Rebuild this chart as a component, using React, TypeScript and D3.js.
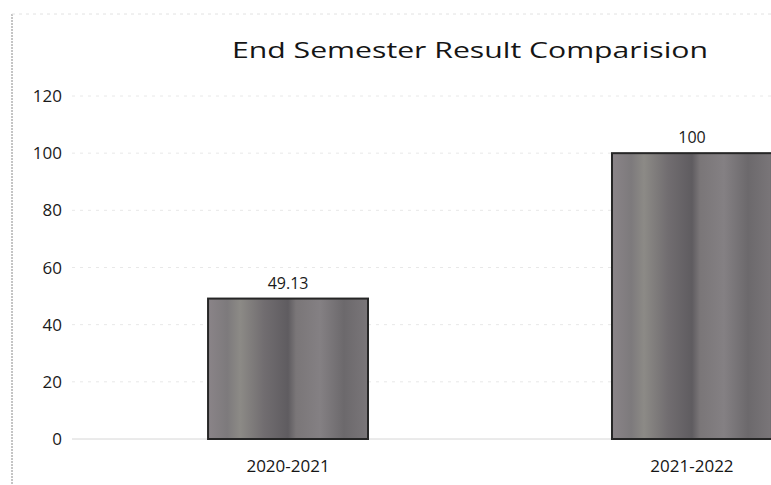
import React from "react";
import * as d3 from "d3";

const categories: string[] = ["2020-2021", "2021-2022"];
const values: number[] = [49.13, 100];
const valueLabels: string[] = ["49.13", "100"];
const yTicks: number[] = [0, 20, 40, 60, 80, 100, 120];
const title = "End Semester Result Comparision";

const W = 771;
const H = 485;
const FONT = "'Open Sans', Lato, 'DejaVu Sans', sans-serif";

export default function App() {
  const y = d3.scaleLinear().domain([0, 120]).range([439, 96]);
  const x = d3
    .scaleBand<string>()
    .domain(categories)
    .range([80, 900])
    .paddingInner(0.604)
    .paddingOuter(0.317);

  const bw = x.bandwidth();

  return (
    <svg
      width={W}
      height={H}
      viewBox={`0 0 ${W} ${H}`}
      style={{ position: "absolute", left: 0, top: 0, background: "#fff" }}
    >
      <defs>
        <linearGradient id="barStripe" x1="0" x2="1" y1="0" y2="0">
          <stop offset="0" stopColor="#8a8488" />
          <stop offset="0.12" stopColor="#7d7a7c" />
          <stop offset="0.2" stopColor="#8c8a86" />
          <stop offset="0.35" stopColor="#716d70" />
          <stop offset="0.5" stopColor="#5f5c60" />
          <stop offset="0.55" stopColor="#7a7678" />
          <stop offset="0.7" stopColor="#848083" />
          <stop offset="0.85" stopColor="#6c696c" />
          <stop offset="1" stopColor="#7a7679" />
        </linearGradient>
      </defs>

      {/* frame */}
      <line x1={12} x2={12} y1={14} y2={H} stroke="#8a8a8a" strokeWidth={1} strokeDasharray="2 1" />
      <line x1={12} x2={W} y1={14} y2={14} stroke="#e2e2e2" strokeWidth={1} strokeDasharray="3 4" />

      {/* title */}
      <text
        x={470}
        y={58}
        textAnchor="middle"
        fontFamily={FONT}
        fontSize={21}
        fill="#151515"
        textLength={476}
        lengthAdjust="spacingAndGlyphs"
      >
        {title}
      </text>

      {/* grid lines */}
      {yTicks.map((t) => (
        <line
          key={`g${t}`}
          x1={72}
          x2={W}
          y1={y(t)}
          y2={y(t)}
          stroke={t === 0 ? "#d6d6d6" : "#e8e8e8"}
          strokeWidth={1}
          strokeDasharray={t === 0 ? undefined : "3 5"}
        />
      ))}

      {/* y tick labels */}
      {yTicks.map((t) => (
        <text
          key={`t${t}`}
          x={62}
          y={y(t)}
          dy="0.36em"
          textAnchor="end"
          fontFamily={FONT}
          fontSize={17}
          fill="#1a1a1a"
        >
          {t}
        </text>
      ))}

      {/* bars */}
      {categories.map((c, i) => (
        <g key={c}>
          <rect
            x={x(c)!}
            y={y(values[i])}
            width={bw}
            height={y(0) - y(values[i])}
            fill="url(#barStripe)"
            stroke="#262626"
            strokeWidth={2}
          />
          <text
            x={x(c)! + bw / 2}
            y={y(values[i]) - 10}
            textAnchor="middle"
            fontFamily={FONT}
            fontSize={16}
            fill="#1a1a1a"
          >
            {valueLabels[i]}
          </text>
          <text
            x={x(c)! + bw / 2}
            y={472}
            textAnchor="middle"
            fontFamily={FONT}
            fontSize={17}
            fill="#151515"
          >
            {c}
          </text>
        </g>
      ))}
    </svg>
  );
}
